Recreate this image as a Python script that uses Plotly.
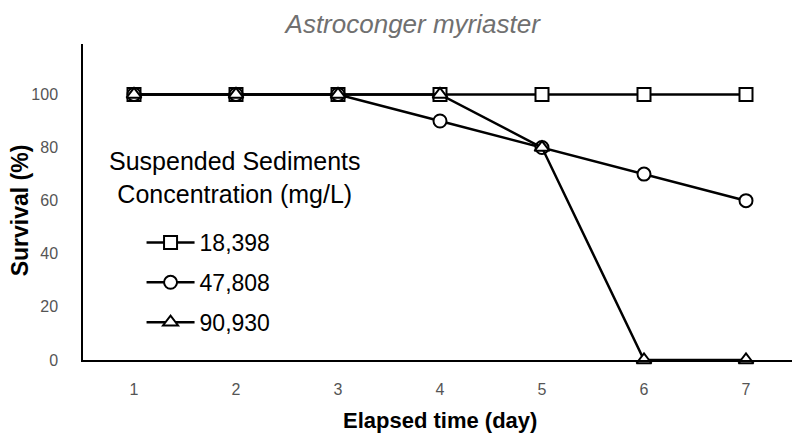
import plotly.graph_objects as go

days = [1, 2, 3, 4, 5, 6, 7]
series_names = ["18,398", "47,808", "90,930"]
s18398 = [100, 100, 100, 100, 100, 100, 100]
s47808 = [100, 100, 100, 90, 80, 70, 60]
s90930 = [100, 100, 100, 100, 80, 0, 0]
symbols = ["square", "circle", "triangle-up"]
y_ticks = [0, 20, 40, 60, 80, 100]

fig = go.Figure()
for name, vals, sym in zip(series_names, [s18398, s47808, s90930], symbols):
    fig.add_trace(go.Scatter(
        x=days, y=vals, name=name, mode="lines+markers",
        line=dict(color="black", width=2.5),
        marker=dict(symbol=sym, size=13, color="white",
                    line=dict(color="black", width=2)),
        legendgroup=name, cliponaxis=False,
    ))

# page body has an 8px margin, so the figure is 8px smaller and shifted
fig.update_layout(
    width=792, height=427,
    margin=dict(l=75, r=3, t=36, b=75, autoexpand=False),
    paper_bgcolor="white", plot_bgcolor="white",
    font=dict(family="Liberation Sans, Arial, sans-serif", color="black"),
    title=dict(text="<i>Astroconger myriaster</i>", x=0.511, xanchor="center",
               xref="container", y=0.963, yanchor="middle",
               font=dict(size=26, color="#707070")),
    showlegend=True,
    legend=dict(x=0.082, y=0.44, xanchor="left", yanchor="top",
                bgcolor="rgba(0,0,0,0)", font=dict(size=23),
                itemwidth=48, tracegroupgap=7, traceorder="grouped"),
    annotations=[
        dict(text="Suspended Sediments<br>Concentration (mg/L)",
             x=0.213, y=0.578, xref="paper", yref="paper",
             xanchor="center", yanchor="middle", showarrow=False,
             align="center", font=dict(size=25, color="black")),
        dict(text="<b>Elapsed time (day)</b>", x=0.5, y=-0.19,
             xref="paper", yref="paper", xanchor="center", yanchor="middle",
             showarrow=False, font=dict(size=22, color="black")),
        dict(text="<b>Survival (%)</b>", x=-0.089, y=0.475, textangle=-90,
             xref="paper", yref="paper", xanchor="center", yanchor="middle",
             showarrow=False, font=dict(size=23, color="black")),
    ],
)
fig.update_xaxes(range=[0.5, 7.5], tickvals=days, showline=True,
                 linecolor="black", linewidth=1.5, showgrid=False,
                 zeroline=False, ticks="", ticklabelstandoff=14,
                 automargin=False,
                 tickfont=dict(size=16, color="#555555"))
fig.update_yaxes(range=[0, 119], tickvals=y_ticks, showline=True,
                 linecolor="black", linewidth=1.5, showgrid=False,
                 zeroline=False, ticks="", ticklabelstandoff=20,
                 automargin=False,
                 tickfont=dict(size=16, color="#555555"))

fig.write_html("out.html")
